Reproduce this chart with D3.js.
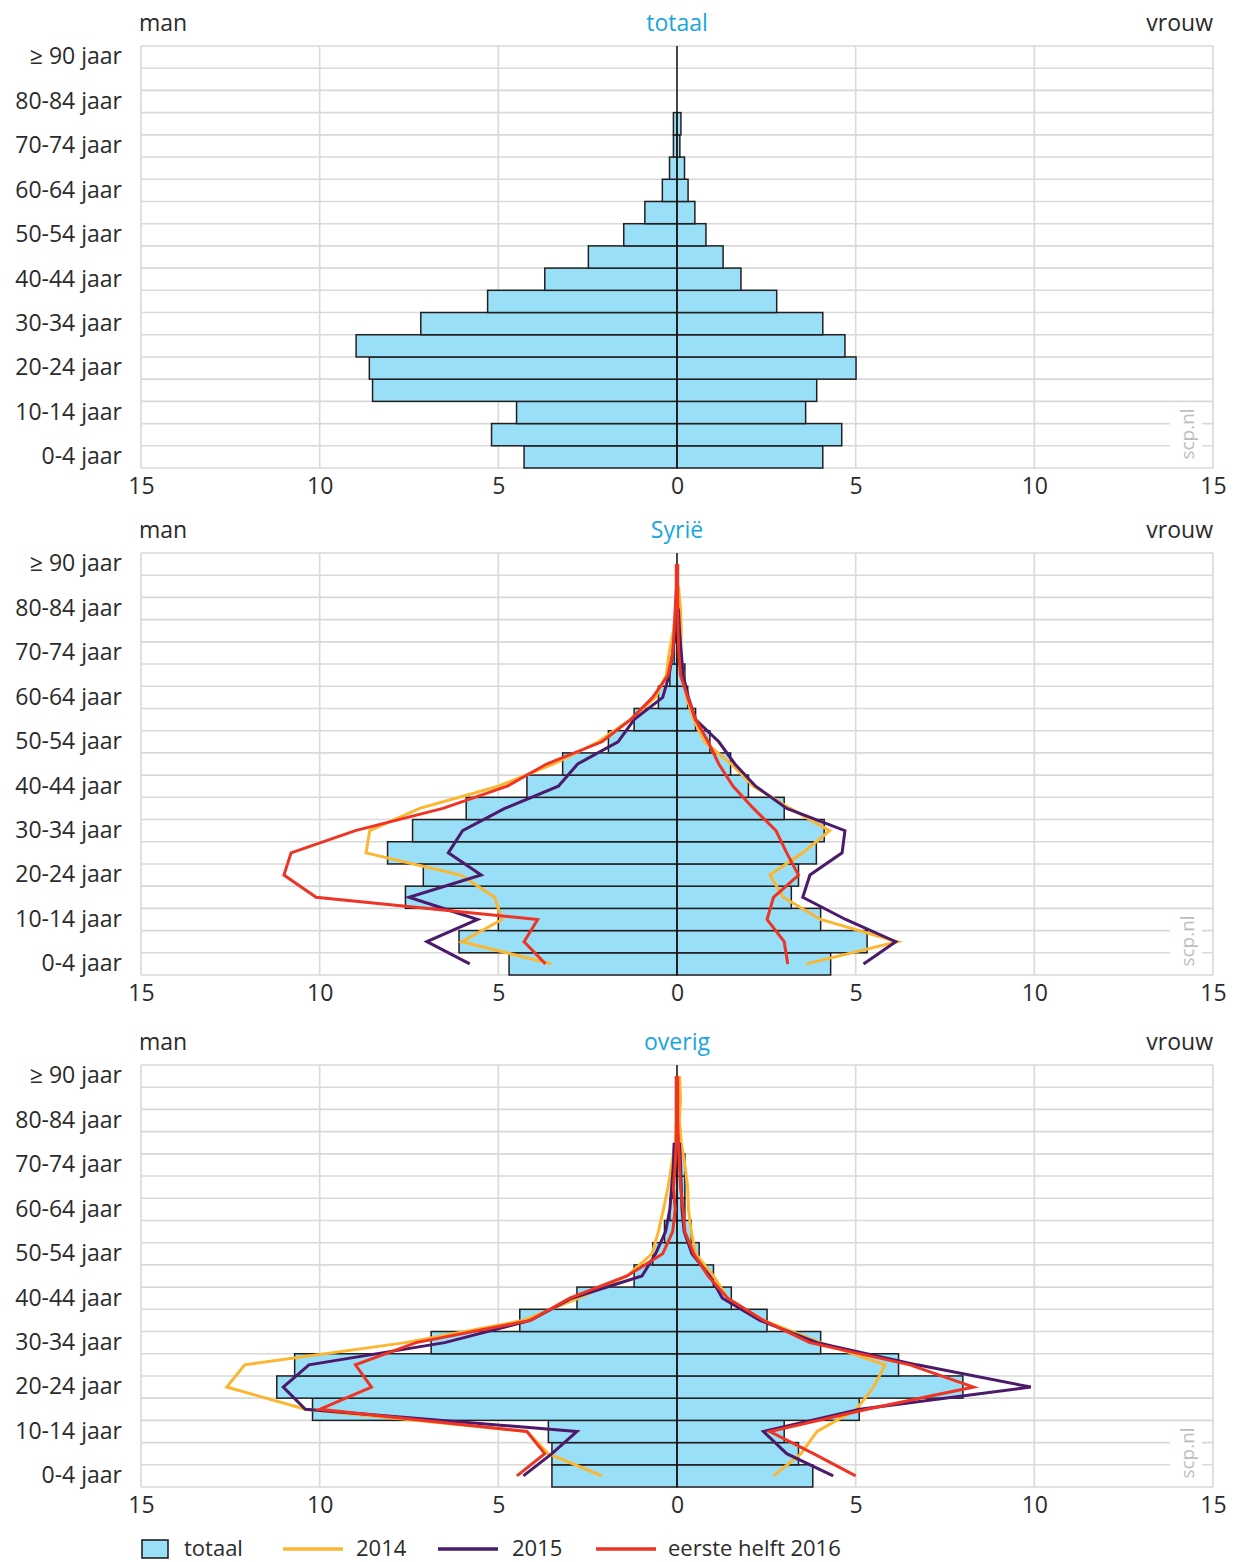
<!DOCTYPE html>
<html><head><meta charset="utf-8">
<script src="https://cdn.jsdelivr.net/npm/d3@7"></script>
<style>
body{margin:0;background:#fff;}
text{font-family:"Open Sans",sans-serif;}
</style></head><body>
<svg id="chart" width="1234" height="1562"></svg>
<script>
// Age groups, bottom to top
const ageGroups = ["0-4","5-9","10-14","15-19","20-24","25-29","30-34","35-39","40-44","45-49","50-54","55-59","60-64","65-69","70-74","75-79","80-84","85-89","≥ 90"];
const ageTickLabels = ["0-4","10-14","20-24","30-34","40-44","50-54","60-64","70-74","80-84","≥ 90"];
const xTicks = [-15,-10,-5,0,5,10,15];
const panelTitles = ["totaal","Syrië","overig"];
const legendLabels = ["totaal","2014","2015","eerste helft 2016"];

// Panel 1: totaal (percentages)
const totaalMan   = [4.28,5.19,4.49,8.52,8.61,8.98,7.17,5.30,3.70,2.48,1.49,0.90,0.41,0.21,0.10,0.10,0,0,0];
const totaalVrouw = [4.08,4.61,3.60,3.91,5.01,4.70,4.08,2.79,1.79,1.29,0.81,0.50,0.31,0.21,0.08,0.11,0,0,0];

// Panel 2: Syrië
const syrieMan   = [4.70,6.10,5.00,7.60,7.10,8.10,7.40,5.90,4.20,3.20,1.92,1.20,0.52,0.20,0.08,0.03,0,0,0];
const syrieVrouw = [4.30,5.32,4.02,3.20,3.40,3.90,4.12,3.00,2.00,1.50,0.92,0.52,0.30,0.22,0.10,0.05,0,0,0];
const syrie2014Man   = [3.52,6.02,4.90,5.10,6.05,8.70,8.60,7.20,5.00,3.45,2.20,1.30,0.60,0.30,0.22,0.10,0.03,0.01,null];
const syrie2014Vrouw = [3.62,6.17,4.02,2.97,2.60,3.52,4.27,3.17,2.14,1.52,0.77,0.47,0.27,0.17,0.10,0.12,0.10,0.04,null];
const syrie2015Man   = [5.80,7.00,5.58,7.50,5.48,6.40,6.00,4.82,3.32,2.78,1.65,1.20,0.40,0.22,0.12,0.05,0.02,null,null];
const syrie2015Vrouw = [5.22,6.12,4.72,3.52,3.72,4.62,4.70,3.07,2.20,1.62,1.17,0.52,0.32,0.17,0.12,0.07,0.04,null,null];
const syrie2016Man   = [3.68,4.28,3.90,10.10,11.00,10.80,9.00,6.55,4.75,3.65,2.10,1.30,0.68,0.25,0.12,0.08,0.05,0.02,0.02];
const syrie2016Vrouw = [3.10,3.00,2.52,2.70,3.40,3.07,2.77,2.14,1.57,1.17,0.87,0.52,0.30,0.10,0.05,0.03,0.02,0.02,0.02];

// Panel 3: overig
const overigMan   = [3.50,3.50,3.60,10.20,11.20,10.70,6.88,4.40,2.80,1.20,0.68,0.35,0.20,0.12,0.08,0.03,0,0,0];
const overigVrouw = [3.80,3.40,3.00,5.10,8.00,6.20,4.02,2.52,1.52,1.02,0.62,0.40,0.22,0.22,0.22,0.05,0,0,0];
const overig2014Man   = [2.10,3.60,4.20,10.40,12.60,12.10,7.60,4.30,2.75,1.40,0.70,0.52,0.38,0.25,0.15,0.05,0.02,0.02,0.02];
const overig2014Vrouw = [2.70,3.47,3.92,5.02,5.50,5.82,4.02,2.42,1.42,1.02,0.52,0.40,0.32,0.30,0.22,0.12,0.07,0.10,0.07];
const overig2015Man   = [4.30,3.50,2.80,10.40,11.02,10.30,6.50,4.10,2.95,0.98,0.60,0.32,0.20,0.15,0.10,0.08,null,null,null];
const overig2015Vrouw = [4.37,3.07,2.42,5.12,9.90,6.72,3.92,2.32,1.27,0.92,0.42,0.20,0.14,0.12,0.10,0.07,null,null,null];
const overig2016Man   = [4.48,3.70,4.20,10.00,8.55,9.00,7.30,4.10,3.00,1.40,0.40,0.12,0.05,0.10,0.05,0.02,0.02,0.02,0.02];
const overig2016Vrouw = [5.00,3.82,2.60,5.32,8.30,6.52,3.72,2.42,1.42,0.87,0.47,0.22,0.17,0.10,0.07,0.04,0.02,0.02,0.02];

const colors = {bar:"#9adff8", barStroke:"#231f20", y2014:"#fbb731", y2015:"#4b1a6b", y2016:"#ee3424", title:"#17a6e3", grid:"#d9d9d9", text:"#2b2b2b"};

const panels = [
  {title: panelTitles[0], top: 46, man: totaalMan, vrouw: totaalVrouw, lines: []},
  {title: panelTitles[1], top: 553, man: syrieMan, vrouw: syrieVrouw, lines: [
    {man: syrie2014Man, vrouw: syrie2014Vrouw, color: colors.y2014},
    {man: syrie2015Man, vrouw: syrie2015Vrouw, color: colors.y2015},
    {man: syrie2016Man, vrouw: syrie2016Vrouw, color: colors.y2016}]},
  {title: panelTitles[2], top: 1065, man: overigMan, vrouw: overigVrouw, lines: [
    {man: overig2014Man, vrouw: overig2014Vrouw, color: colors.y2014},
    {man: overig2015Man, vrouw: overig2015Vrouw, color: colors.y2015},
    {man: overig2016Man, vrouw: overig2016Vrouw, color: colors.y2016}]}
];

const svg = d3.select("#chart");
const left = 141, right = 1213, plotH = 422;
const x = d3.scaleLinear().domain([-15,15]).range([left,right]);
const fs = 23;

panels.forEach(p => {
  const top = p.top, bottom = top + plotH;
  const y = d3.scaleBand().domain(ageGroups).range([bottom, top]).padding(0);
  const g = svg.append("g");

  // gridlines
  g.append("g").selectAll("line").data(ageGroups.map(a => y(a)).concat([bottom]))
    .join("line").attr("x1", left).attr("x2", right).attr("y1", d => d).attr("y2", d => d)
    .attr("stroke", colors.grid).attr("stroke-width", 1.6);
  g.append("g").selectAll("line").data(xTicks.filter(d => d !== 0))
    .join("line").attr("x1", d => x(d)).attr("x2", d => x(d)).attr("y1", top).attr("y2", bottom)
    .attr("stroke", colors.grid).attr("stroke-width", 1.6);

  // watermark
  g.append("rect").attr("x", 1170).attr("y", bottom - 62).attr("width", 32).attr("height", 55).attr("fill", "#fff");
  g.append("text").attr("transform", `translate(${1194},${bottom - 34}) rotate(-90)`)
    .attr("text-anchor", "middle").attr("font-size", 19).attr("fill", "#bdbdbd").text("scp.nl");

  // bars
  const barData = [];
  ageGroups.forEach((a, i) => {
    if (p.man[i] > 0) barData.push({a, v: -p.man[i]});
    if (p.vrouw[i] > 0) barData.push({a, v: p.vrouw[i]});
  });
  g.append("g").selectAll("rect").data(barData).join("rect")
    .attr("x", d => Math.min(x(0), x(d.v))).attr("width", d => Math.abs(x(d.v) - x(0)))
    .attr("y", d => y(d.a)).attr("height", y.bandwidth())
    .attr("fill", colors.bar).attr("stroke", colors.barStroke).attr("stroke-width", 1.5);

  // zero line
  g.append("line").attr("x1", x(0)).attr("x2", x(0)).attr("y1", top).attr("y2", bottom)
    .attr("stroke", "#1a1a1a").attr("stroke-width", 1.6);

  // lines
  const line = d3.line().defined(d => d.v !== null)
    .x(d => x(d.v)).y(d => y(d.a) + y.bandwidth()/2);
  p.lines.forEach(l => {
    [l.man.map((v,i) => ({a: ageGroups[i], v: v === null ? null : -v})),
     l.vrouw.map((v,i) => ({a: ageGroups[i], v}))].forEach(pts => {
      g.append("path").datum(pts).attr("d", line).attr("fill", "none")
        .attr("stroke", l.color).attr("stroke-width", 3).attr("stroke-linejoin", "miter");
    });
  });

  // x axis labels
  const xa = g.append("g").attr("transform", `translate(0,${bottom})`)
    .call(d3.axisBottom(x).tickValues(xTicks).tickFormat(d => Math.abs(d)).tickSize(0).tickPadding(10));
  xa.select(".domain").remove();
  xa.selectAll("text").attr("font-size", fs).attr("font-family", "Open Sans").attr("fill", colors.text);

  // y axis labels
  const ya = g.append("g").attr("transform", `translate(${left},0)`)
    .call(d3.axisLeft(y).tickValues(ageTickLabels).tickFormat(d => d + " jaar").tickSize(0).tickPadding(19));
  ya.select(".domain").remove();
  ya.selectAll("text").attr("font-size", fs).attr("font-family", "Open Sans").attr("fill", colors.text);

  // header
  g.append("text").attr("x", 139).attr("y", top - 15).attr("font-size", fs).attr("fill", colors.text).text("man");
  g.append("text").attr("x", right).attr("y", top - 15).attr("text-anchor", "end").attr("font-size", fs).attr("fill", colors.text).text("vrouw");
  g.append("text").attr("x", x(0)).attr("y", top - 15).attr("text-anchor", "middle").attr("font-size", fs).attr("fill", colors.title).text(p.title);
});

// legend
const lg = svg.append("g").attr("transform", "translate(0,1549)");
lg.append("rect").attr("x", 142).attr("y", -9).attr("width", 26).attr("height", 18)
  .attr("fill", colors.bar).attr("stroke", colors.barStroke).attr("stroke-width", 1.6);
lg.append("text").attr("x", 184).attr("y", 7).attr("font-size", 22).attr("fill", colors.text).text(legendLabels[0]);
const legLines = [
  {x1: 283, x2: 343, tx: 356, c: colors.y2014, t: legendLabels[1]},
  {x1: 438, x2: 498, tx: 512, c: colors.y2015, t: legendLabels[2]},
  {x1: 596, x2: 656, tx: 668, c: colors.y2016, t: legendLabels[3]}
];
legLines.forEach(l => {
  lg.append("line").attr("x1", l.x1).attr("x2", l.x2).attr("y1", 0).attr("y2", 0).attr("stroke", l.c).attr("stroke-width", 3.5);
  lg.append("text").attr("x", l.tx).attr("y", 7).attr("font-size", 22).attr("fill", colors.text).text(l.t);
});
</script>
</body></html>
